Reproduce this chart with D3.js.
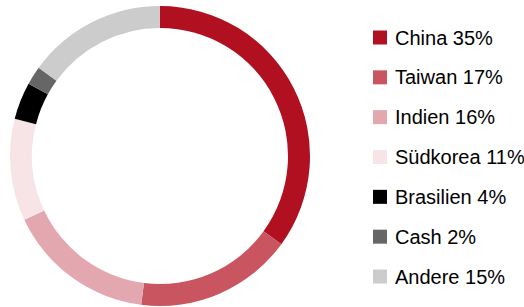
<!DOCTYPE html>
<html>
<head>
<meta charset="utf-8">
<script src="https://cdn.jsdelivr.net/npm/d3@7"></script>
<style>
  body { margin: 0; background: #fff; }
  text { font-family: "Liberation Sans", Arial, sans-serif; }
</style>
</head>
<body>
<div id="chart"></div>
<script>
// Data
var categories = ['China', 'Taiwan', 'Indien', 'Südkorea', 'Brasilien', 'Cash', 'Andere'];
var shares = [35, 17, 16, 11, 4, 2, 15];
var colors = ['#b01020', '#c85560', '#e3a7af', '#f6e4e7', '#000000', '#666666', '#cccccc'];

var width = 524,
    height = 307,
    cx = 160,
    cy = 156,
    outerR = 150,
    innerR = 128;

var data = categories.map(function(c, i) {
    return {name: c, value: shares[i], color: colors[i]};
});

var svg = d3.select('#chart').append('svg')
    .attr('width', width)
    .attr('height', height);

// Donut
var pie = d3.pie()
    .sort(null)
    .value(function(d) { return d.value; });

var arc = d3.arc()
    .innerRadius(innerR)
    .outerRadius(outerR);

svg.append('g')
    .attr('transform', 'translate(' + cx + ',' + cy + ')')
    .selectAll('path')
    .data(pie(data))
    .enter()
    .append('path')
    .attr('d', arc)
    .attr('fill', function(d) { return d.data.color; });

// Legend
var legendY = d3.scalePoint()
    .domain(categories)
    .range([37.5, 276.5]);

var legend = svg.append('g')
    .selectAll('g')
    .data(data)
    .enter()
    .append('g')
    .attr('transform', function(d) { return 'translate(373,' + legendY(d.name) + ')'; });

legend.append('rect')
    .attr('x', 0)
    .attr('y', -7)
    .attr('width', 14)
    .attr('height', 14)
    .attr('fill', function(d) { return d.color; });

legend.append('text')
    .attr('x', 22)
    .attr('y', 0)
    .attr('dy', '0.35em')
    .attr('font-size', 20)
    .attr('fill', '#000')
    .text(function(d) { return d.name + ' ' + d.value + '%'; });
</script>
</body>
</html>
